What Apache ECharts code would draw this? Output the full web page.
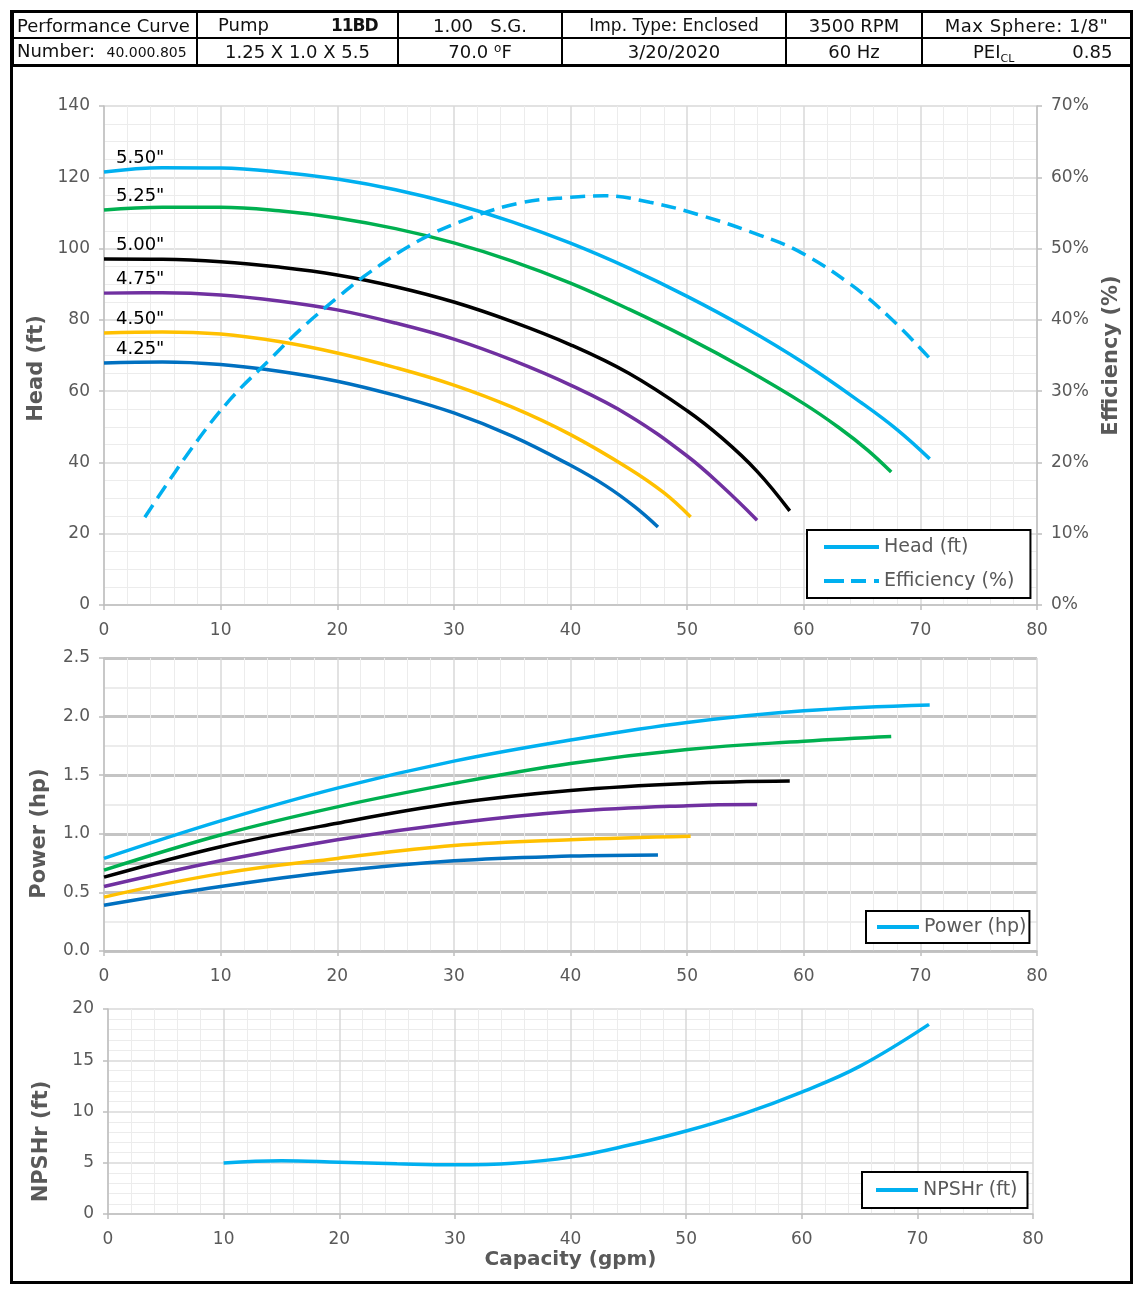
<!DOCTYPE html>
<html>
<head>
<meta charset="utf-8">
<script src="https://cdn.jsdelivr.net/npm/echarts@6/dist/echarts.min.js"></script>
<style>
  html,body{margin:0;padding:0;background:#fff;}
  body{width:1140px;height:1289px;position:relative;overflow:hidden;font-family:"DejaVu Sans",Verdana,sans-serif;}
  #frame{position:absolute;left:10px;top:10px;width:1123px;height:1274px;box-sizing:border-box;border:3px solid #000;}
  #chart{position:absolute;left:0;top:0;width:1140px;height:1289px;}
  #hdr{position:absolute;left:12px;top:11px;border-collapse:collapse;table-layout:fixed;font-size:18px;color:#111;}
  #hdr td{border:2px solid #000;height:23px;padding:0;white-space:nowrap;line-height:23px;text-align:center;overflow:hidden;}
  #hdr tr:last-child td{border-bottom:3px solid #000;}
  .sm{font-size:14px;}
  .sup{position:relative;top:-6px;font-size:12px;line-height:0;}
  .sub{position:relative;top:4px;font-size:11px;line-height:0;}
</style>
</head>
<body>
<div id="chart"></div>
<div id="frame"></div>
<table id="hdr">
  <colgroup><col style="width:184px"><col style="width:201px"><col style="width:164px"><col style="width:224px"><col style="width:136px"><col style="width:209px"></colgroup>
  <tr>
    <td style="text-align:left;padding-left:3px">Performance Curve</td>
    <td style="text-align:left"><span style="margin-left:20px">Pump</span><b style="margin-left:62px;font-size:17px;letter-spacing:-1px">11BD</b></td>
    <td>1.00&nbsp;&nbsp;&nbsp;S.G.</td>
    <td style="font-size:17px">Imp. Type: Enclosed</td>
    <td>3500 RPM</td>
    <td style="letter-spacing:0.5px">Max Sphere: 1/8"</td>
  </tr>
  <tr>
    <td style="text-align:left;padding-left:3px">Number:&nbsp; <span class="sm">40.000.805</span></td>
    <td>1.25 X 1.0 X 5.5</td>
    <td>70.0 <span class="sup">o</span>F</td>
    <td>3/20/2020</td>
    <td>60 Hz</td>
    <td style="text-align:left"><span style="margin-left:50px">PEI<span class="sub">CL</span></span><span style="margin-left:58px">0.85</span></td>
  </tr>
</table>
<script>
// ---------- data ----------
const trimLabels = ['5.50"', '5.25"', '5.00"', '4.75"', '4.50"', '4.25"'];
const trimColors = ['#00B0F0', '#00B050', '#000000', '#7030A0', '#FFC000', '#0070C0'];

// Head (ft) vs capacity (gpm)
const head550X = [0,5,10,15,20,25,30,35,40,45,50,55,60,65,68,70.8];
const head550  = [121.5,122.7,122.6,121.5,119.5,116.5,112.5,107.5,101.5,94.5,86.6,77.8,67.9,56.6,49.2,41];
const head525X = [0,5,10,15,20,25,30,35,40,45,50,55,60,63,65.5,67.5];
const head525  = [110.8,111.6,111.6,110.6,108.6,105.6,101.6,96.5,90.3,83,75,66.2,56.5,49.8,43.4,37.3];
const head500X = [0,5,10,15,20,25,30,35,40,45,50,53,56,58.8];
const head500  = [97.1,97,96.3,94.8,92.6,89.3,85,79.5,73,65,54.5,46.8,37.5,26.4];
const head475X = [0,5,10,15,20,25,30,35,40,45,50,53,56];
const head475  = [87.5,87.6,87,85.3,82.8,79.1,74.6,68.7,61.7,53.2,41.8,33.3,23.8];
const head450X = [0,5,10,15,20,25,30,35,40,45,48,50.3];
const head450  = [76.3,76.6,76,73.9,70.7,66.6,61.7,55.5,47.8,38.3,31.5,24.7];
const head425X = [0,5,10,15,20,25,30,35,40,43,45.5,47.5];
const head425  = [67.9,68.2,67.5,65.6,62.8,58.8,53.9,47.4,39.2,33.5,27.6,21.9];

// Efficiency (%) of the 5.50" trim
const effX = [3.5,7.4,10.8,14.2,16.8,20,22.8,27.1,31.4,35.7,40,42.9,46.8,51.1,56.2,59.7,64,67.4,70.8];
const eff  = [12.3,21.7,28.8,34.4,38.6,43.1,46.7,51.2,54.3,56.4,57.2,57.4,56.5,54.7,51.9,49.5,45,40.3,34.6];

// Power (hp)
const pow550X = [0,10,20,30,40,50,60,70.8];
const pow550  = [0.79,1.11,1.39,1.62,1.80,1.95,2.05,2.10];
const pow525X = [0,10,20,30,40,50,60,67.5];
const pow525  = [0.69,0.99,1.23,1.43,1.60,1.72,1.79,1.83];
const pow500X = [0,10,20,30,40,50,58.8];
const pow500  = [0.63,0.89,1.09,1.26,1.37,1.43,1.45];
const pow475X = [0,10,20,30,40,50,56];
const pow475  = [0.55,0.77,0.95,1.09,1.19,1.24,1.25];
const pow450X = [0,10,20,30,40,50.3];
const pow450  = [0.46,0.66,0.79,0.90,0.95,0.98];
const pow425X = [0,10,20,30,40,47.5];
const pow425  = [0.39,0.55,0.68,0.77,0.81,0.82];

// NPSHr (ft)
const npshX = [10,15,20,25,30,35,40,45,50,55,60,65,71];
const npsh  = [4.98,5.2,5.05,4.9,4.8,4.95,5.55,6.7,8.1,9.8,11.9,14.4,18.5];

// ---------- chart ----------
const zip = (xs, ys) => xs.map((x, i) => [x, ys[i]]);
const headSets = [[head550X,head550],[head525X,head525],[head500X,head500],[head475X,head475],[head450X,head450],[head425X,head425]];
const powSets = [[pow550X,pow550],[pow525X,pow525],[pow500X,pow500],[pow475X,pow475],[pow450X,pow450],[pow425X,pow425]];

const FONT = 'DejaVu Sans';
const LBL = {color:'#595959', fontSize:17, fontFamily:FONT};
const NAME = {color:'#595959', fontSize:20, fontWeight:'bold', fontFamily:FONT};
const VNAME = Object.assign({}, NAME, {fontSize:21});
const axisLine = {show:true, lineStyle:{color:'#bfbfbf', width:1.5}};
const axisTick = {show:true, length:5, lineStyle:{color:'#bfbfbf', width:1.5}};

function xAx(gi, extra) {
  return Object.assign({
    gridIndex:gi, type:'value', min:0, max:80, interval:10,
    axisLine, axisTick, axisLabel:Object.assign({margin:17}, LBL),
    splitLine:{show:true, lineStyle:{color:'#d9d9d9', width:1.5}},
    minorTick:{show:false, splitNumber:5},
    minorSplitLine:{show:true, lineStyle:{color:'#ececec', width:1}}
  }, extra || {});
}

const series = [];
headSets.forEach((s, i) => {
  const d = zip(s[0], s[1]);
  series.push({
    name: i === 0 ? 'Head (ft)' : 'head ' + trimLabels[i],
    type:'line', xAxisIndex:0, yAxisIndex:0, data:d, smooth:0.4, symbol:'none',
    lineStyle:{color:trimColors[i], width:3.5}, itemStyle:{color:trimColors[i]}, z:3,
    markPoint:{symbol:'circle', symbolSize:0, silent:true,
      data:[{coord:d[0], label:{show:true, formatter:trimLabels[i], position:[12,-23], align:'left',
        color:'#000', fontSize:18, fontFamily:FONT}}]}
  });
});
series.push({
  name:'Efficiency (%)', type:'line', xAxisIndex:0, yAxisIndex:1, data:zip(effX, eff), smooth:0.4, symbol:'none',
  lineStyle:{color:'#00B0F0', width:3.5, type:[15,8]}, itemStyle:{color:'#00B0F0'}, z:4
});
powSets.forEach((s, i) => {
  const ser = {
    name: i === 0 ? 'Power (hp)' : 'power ' + trimLabels[i],
    type:'line', xAxisIndex:1, yAxisIndex:2, data:zip(s[0], s[1]), smooth:0.4, symbol:'none',
    lineStyle:{color:trimColors[i], width:3.5}, itemStyle:{color:trimColors[i]}, z:3
  };
  if (i === 0) {
    ser.markLine = {silent:true, symbol:'none', label:{show:false}, z:1,
      lineStyle:{color:'#c4c4c4', width:3, type:'solid'}, data:[{yAxis:0.75}]};
  }
  series.push(ser);
});
series.push({
  name:'NPSHr (ft)', type:'line', xAxisIndex:2, yAxisIndex:3, data:zip(npshX, npsh), smooth:0.4, symbol:'none',
  lineStyle:{color:'#00B0F0', width:3.5}, itemStyle:{color:'#00B0F0'}, z:3
});

const SOLID = 'rect';
const DASHED = 'path://M0,0H20V4H0Z M27,0H42V4H27Z M50,0H55V4H50Z';
const legendBase = {
  orient:'vertical', backgroundColor:'#fff', borderColor:'#000', borderWidth:2, borderRadius:0,
  itemHeight:4, selectedMode:false, itemGap:12,
  textStyle:{color:'#595959', fontSize:19, fontFamily:FONT, lineHeight:22}
};

const option = {
  animation:false,
  grid:[
    {left:104, top:106, width:933, height:499},
    {left:104, top:658, width:933, height:293},
    {left:108, top:1009, width:925, height:205}
  ],
  legend:[
    Object.assign({}, legendBase, {data:[{name:'Head (ft)', icon:SOLID},{name:'Efficiency (%)', icon:DASHED}],
      itemWidth:55, left:807, top:530, padding:[6,16,6,17]}),
    Object.assign({}, legendBase, {data:[{name:'Power (hp)', icon:SOLID}], itemWidth:42, left:866, top:911, padding:[5,3,5,11]}),
    Object.assign({}, legendBase, {data:[{name:'NPSHr (ft)', icon:SOLID}], itemWidth:42, left:862, top:1172, padding:[7,10,7,14]})
  ],
  xAxis:[
    xAx(0),
    xAx(1),
    xAx(2, {name:'Capacity (gpm)', nameLocation:'middle', nameGap:36, nameTextStyle:NAME})
  ],
  yAxis:[
    {gridIndex:0, type:'value', min:0, max:140, interval:20, name:'Head (ft)', nameLocation:'middle', nameGap:54, nameRotate:90,
      nameTextStyle:Object.assign({padding:[0,26,0,0]}, VNAME),
      axisLine, axisTick, axisLabel:Object.assign({margin:14}, LBL),
      splitLine:{show:true, lineStyle:{color:'#d9d9d9', width:1.5}},
      minorTick:{show:false, splitNumber:4}, minorSplitLine:{show:true, lineStyle:{color:'#ececec', width:1}}},
    {gridIndex:0, type:'value', position:'right', min:0, max:70, interval:10, name:'Efficiency (%)', nameLocation:'middle', nameGap:64, nameRotate:90,
      nameTextStyle:VNAME, axisLine, axisTick, axisLabel:Object.assign({margin:14, formatter:'{value}%'}, LBL),
      splitLine:{show:false}},
    {gridIndex:1, type:'value', min:0, max:2.5, interval:0.5, name:'Power (hp)', nameLocation:'middle', nameGap:54, nameRotate:90,
      nameTextStyle:Object.assign({padding:[0,58,0,0]}, VNAME),
      axisLine, axisTick, axisLabel:Object.assign({margin:14, formatter:v => v.toFixed(1)}, LBL),
      splitLine:{show:true, lineStyle:{color:'#c4c4c4', width:3}},
      minorTick:{show:false, splitNumber:2}, minorSplitLine:{show:true, lineStyle:{color:'#e6e6e6', width:1.5}}},
    {gridIndex:2, type:'value', min:0, max:20, interval:5, name:'NPSHr (ft)', nameLocation:'middle', nameGap:56, nameRotate:90,
      nameTextStyle:Object.assign({padding:[0,60,0,0]}, VNAME),
      axisLine, axisTick, axisLabel:Object.assign({margin:14}, LBL),
      splitLine:{show:true, lineStyle:{color:'#d9d9d9', width:1.5}},
      minorTick:{show:false, splitNumber:5}, minorSplitLine:{show:true, lineStyle:{color:'#ececec', width:1}}}
  ],
  series
};

const chart = echarts.init(document.getElementById('chart'), null, {renderer:'canvas'});
chart.setOption(option);
</script>
</body>
</html>
